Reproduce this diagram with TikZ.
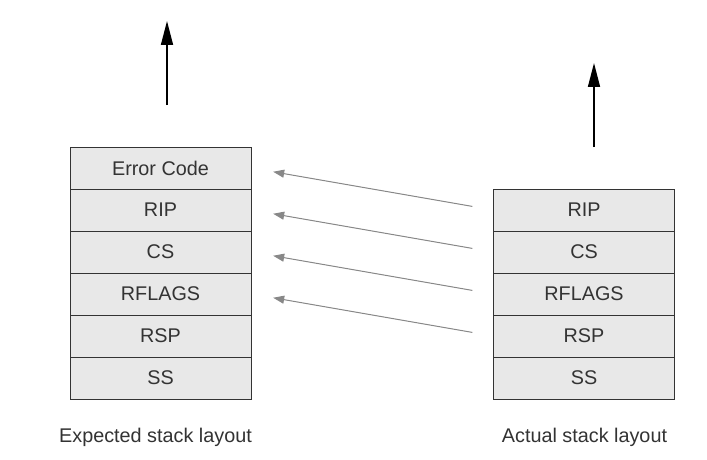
\documentclass[tikz,border=0pt]{standalone}
\usepackage{fontspec}
\setmainfont{Liberation Sans}
\usetikzlibrary{arrows.meta}
\definecolor{cellfill}{HTML}{E8E8E8}
\definecolor{celldraw}{HTML}{333333}
\definecolor{txt}{HTML}{333333}
\definecolor{grayarrow}{HTML}{888888}
\begin{document}
\begin{tikzpicture}[x=1pt,y=-1pt,
  cell/.style={draw=celldraw, fill=cellfill, line width=1pt, minimum width=181pt, minimum height=42pt, inner sep=0pt, text=txt, font=\fontsize{19.8}{22}\selectfont},
  caption/.style={text=txt, font=\fontsize{19.8}{22}\selectfont, inner sep=0pt},
  link/.style={draw=grayarrow, line width=1pt, -{Triangle[length=11pt,width=8pt]}, shorten <=21pt, shorten >=22pt},
  growth/.style={draw=black, line width=1.6pt, -{Triangle[length=24pt,width=12pt]}}]
\path[use as bounding box, fill=white] (0,0) rectangle (707,460);
% left stack
\node[cell] (lerr) at (160.5,168) {Error Code};
\node[cell] (lrip) at (160.5,210) {RIP};
\node[cell] (lcs) at (160.5,252) {CS};
\node[cell] (lrfl) at (160.5,294) {RFLAGS};
\node[cell] (lrsp) at (160.5,336) {RSP};
\node[cell] (lss) at (160.5,378) {SS};
% right stack
\node[cell] (rrip) at (584,210) {RIP};
\node[cell] (rcs) at (584,252) {CS};
\node[cell] (rrfl) at (584,294) {RFLAGS};
\node[cell] (rrsp) at (584,336) {RSP};
\node[cell] (rss) at (584,378) {SS};
% captions
\node[caption] (lcap) at (155.5,437) {Expected stack layout};
\node[caption] (rcap) at (584.5,437) {Actual stack layout};
% gray arrows
\draw[link] (rrip.west) -- (lerr.east);
\draw[link] (rcs.west) -- (lrip.east);
\draw[link] (rrfl.west) -- (lcs.east);
\draw[link] (rrsp.west) -- (lrfl.east);
% growth arrows
\coordinate (la0) at (167,105);
\coordinate (la1) at (167,21);
\coordinate (ra0) at (594,147);
\coordinate (ra1) at (594,63);
\draw[growth] (la0) -- (la1);
\draw[growth] (ra0) -- (ra1);
\end{tikzpicture}
\end{document}
